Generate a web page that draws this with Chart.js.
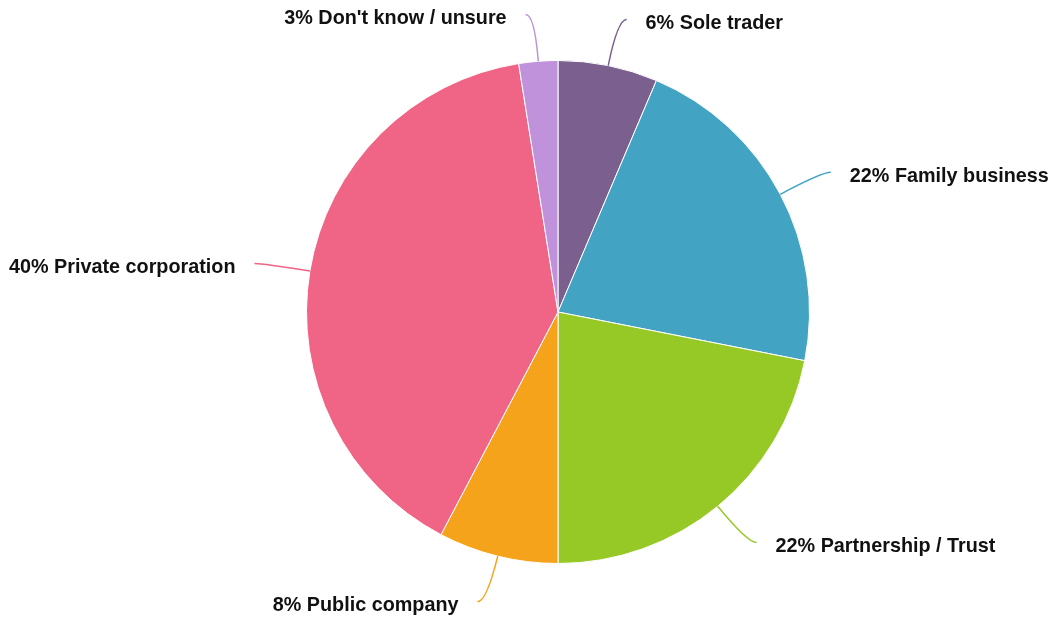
<!DOCTYPE html>
<html>
<head>
<meta charset="utf-8">
<script src="https://cdn.jsdelivr.net/npm/chart.js@4/dist/chart.umd.min.js"></script>
<style>
  html, body { margin: 0; padding: 0; background: #fff; }
  #wrap { width: 1056px; height: 617px; position: relative; }
</style>
</head>
<body>
<div id="wrap"><canvas id="chart" width="1056" height="617"></canvas></div>
<script>
// Business structure shares (percent of respondents)
const categories = ['Sole trader', 'Family business', 'Partnership / Trust', 'Public company', 'Private corporation', "Don't know / unsure"];
const shares = [6.4, 21.7, 21.9, 7.7, 39.8, 2.5];
const sliceColors = ['#7B5F8F', '#42A3C3', '#96C925', '#F5A31A', '#F06485', '#C092DB'];

// Curved leader lines with percentage labels outside each slice
const calloutPlugin = {
  id: 'callouts',
  afterDatasetsDraw(chart) {
    const ctx = chart.ctx;
    const meta = chart.getDatasetMeta(0);
    const data = chart.data.datasets[0].data;
    const total = data.reduce((a, b) => a + b, 0);
    const reach = 47;   // radial length to the bend
    const tail = 9;     // horizontal run after the bend
    const gap = 19;     // space between line end and text
    ctx.save();
    ctx.font = 'bold 19.8px "Liberation Sans", Arial, sans-serif';
    ctx.textBaseline = 'middle';
    meta.data.forEach((arc, i) => {
      const p = arc.getProps(['x', 'y', 'startAngle', 'endAngle', 'outerRadius'], true);
      const mid = (p.startAngle + p.endAngle) / 2;
      const dx = Math.cos(mid), dy = Math.sin(mid);
      const sx = p.x + dx * p.outerRadius, sy = p.y + dy * p.outerRadius;
      const cx = sx + dx * reach, cy = sy + dy * reach;
      const side = dx >= 0 ? 1 : -1;
      const ex = cx + side * tail, ey = cy;
      ctx.strokeStyle = sliceColors[i];
      ctx.lineWidth = 1.5;
      ctx.beginPath();
      ctx.moveTo(sx, sy);
      ctx.quadraticCurveTo(cx, cy, ex, ey);
      ctx.stroke();
      const pct = Math.round(data[i] / total * 100);
      ctx.fillStyle = '#111';
      ctx.textAlign = side > 0 ? 'left' : 'right';
      ctx.fillText(pct + '% ' + chart.data.labels[i], ex + side * gap, ey + 4);
    });
    ctx.restore();
  }
};

new Chart(document.getElementById('chart'), {
  type: 'pie',
  data: {
    labels: categories,
    datasets: [{
      data: shares,
      backgroundColor: sliceColors,
      borderColor: '#ffffff',
      borderWidth: 1
    }]
  },
  options: {
    responsive: false,
    animation: false,
    layout: { padding: { top: 60, bottom: 53, left: 306, right: 246 } },
    plugins: { legend: { display: false }, tooltip: { enabled: false } }
  },
  plugins: [calloutPlugin]
});
</script>
</body>
</html>
